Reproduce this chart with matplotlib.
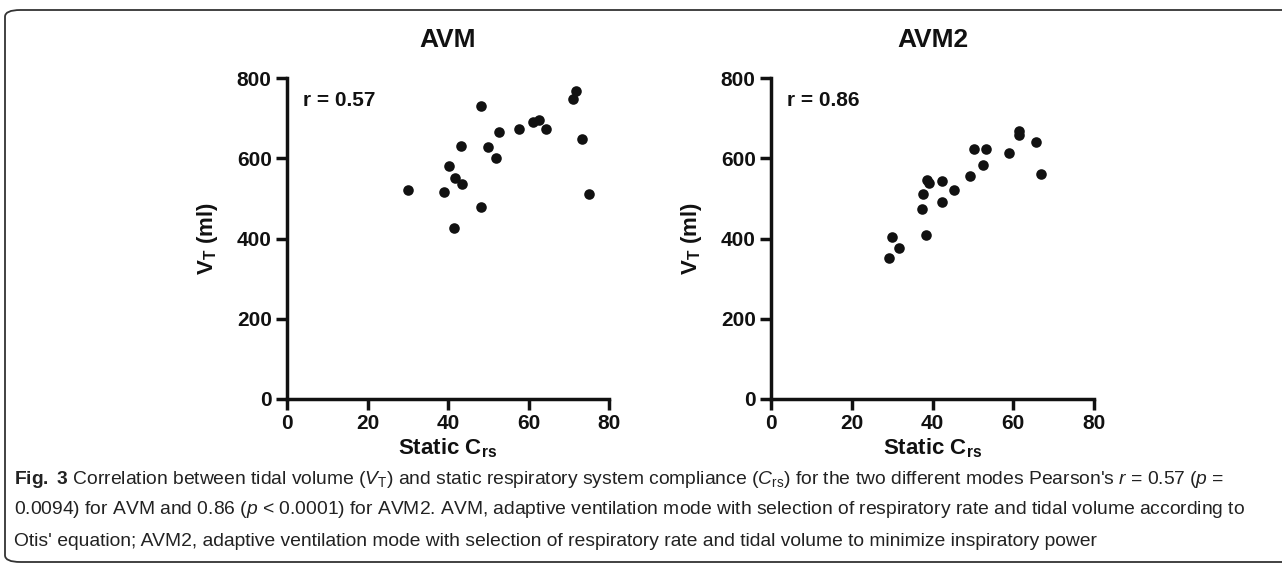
import matplotlib
matplotlib.use("Agg")
import matplotlib.pyplot as plt
from matplotlib.patches import FancyBboxPatch

# ---- data ----
avm_crs = [30.0, 38.9, 40.2, 41.7, 43.4, 43.2, 41.5, 48.2, 48.1, 50.0, 51.9, 52.6,
           57.7, 61.1, 62.5, 64.3, 71.7, 71.0, 73.4, 75.1]
avm_vt = [522, 515, 581, 552, 535, 630, 427, 731, 478, 628, 601, 665,
          674, 690, 695, 673, 768, 747, 648, 510]
avm2_crs = [29.2, 30.0, 31.6, 37.5, 37.6, 38.5, 38.6, 39.1, 42.3, 42.3, 45.4, 49.4,
            50.3, 53.3, 52.6, 58.9, 61.4, 61.4, 65.7, 66.8]
avm2_vt = [351, 404, 376, 473, 512, 409, 547, 539, 544, 490, 522, 555,
           624, 624, 583, 614, 667, 659, 641, 560]
titles = ["AVM", "AVM2"]
r_labels = ["r = 0.57", "r = 0.86"]
xticks = [0, 20, 40, 60, 80]
yticks = [0, 200, 400, 600, 800]

plt.rcParams['font.family'] = ['Liberation Sans', 'DejaVu Sans']
plt.rcParams['mathtext.fontset'] = 'custom'
plt.rcParams['mathtext.rm'] = 'Liberation Sans'
plt.rcParams['mathtext.it'] = 'Liberation Sans:italic'
plt.rcParams['mathtext.bf'] = 'Liberation Sans:bold'

W, H = 1282, 565
fig = plt.figure(figsize=(W / 100, H / 100), dpi=100)

def fx(px):
    return px / W

def fy(py):
    return 1 - py / H

positions = [(287, 609), (771, 1094)]
y_top, y_bot = 78, 399
data = [(avm_crs, avm_vt), (avm2_crs, avm2_vt)]

for i, ((x0, x1), (xs, ys)) in enumerate(zip(positions, data)):
    ax = fig.add_axes([fx(x0), fy(y_bot), fx(x1 - x0), (y_bot - y_top) / H])
    ax.scatter(xs, ys, s=58, color='#111111', zorder=3, clip_on=False, linewidths=0)
    ax.set_xlim(0, 80)
    ax.set_ylim(0, 800)
    ax.set_xticks(xticks)
    ax.set_yticks(yticks)
    for s in ['top', 'right']:
        ax.spines[s].set_visible(False)
    for s in ['left', 'bottom']:
        ax.spines[s].set_linewidth(2.5)
        ax.spines[s].set_color('#111111')
    ax.tick_params(axis='both', direction='out', length=8, width=2.5, color='#111111',
                   labelsize=15, pad=3)
    for lab in ax.get_xticklabels() + ax.get_yticklabels():
        lab.set_fontweight('bold')
        lab.set_color('#111111')
    ax.set_title(titles[i], fontsize=19, fontweight='bold', pad=22, color='#111111')
    ax.set_xlabel(r'Static C$_\mathbf{rs}$', fontsize=16, fontweight='bold', labelpad=2,
                  color='#111111')
    ax.set_ylabel(r'V$_\mathbf{T}$ (ml)', fontsize=16, fontweight='bold', labelpad=12,
                  color='#111111')
    ax.text(4, 745, r_labels[i], fontsize=15, fontweight='bold', va='center', ha='left',
            color='#111111')

# caption
cap_font = ['Liberation Sans', 'DejaVu Sans']
lines = [
    r"$\mathbf{Fig.}$ $\mathbf{3}$ Correlation between tidal volume ($V_\mathrm{T}$) and static respiratory system compliance ($C_\mathrm{rs}$) for the two different modes Pearson's $r$ = 0.57 ($p$ =",
    r"0.0094) for AVM and 0.86 ($p$ < 0.0001) for AVM2. AVM, adaptive ventilation mode with selection of respiratory rate and tidal volume according to",
    r"Otis' equation; AVM2, adaptive ventilation mode with selection of respiratory rate and tidal volume to minimize inspiratory power",
]
for k, (ln, yy) in enumerate(zip(lines, [479, 510, 541])):
    fig.text(fx(14), fy(yy), ln, fontsize=13.9, family=cap_font, va='center', ha='left',
             color='#222222')

# border
box = FancyBboxPatch((fx(5), fy(562)), fx(1300), (562 - 10) / H,
                     boxstyle="round,pad=0,rounding_size=0.012",
                     transform=fig.transFigure, fill=False, edgecolor='#333333',
                     linewidth=1.3, clip_on=False)
fig.patches.append(box)

fig.savefig('out.png', dpi=100)
